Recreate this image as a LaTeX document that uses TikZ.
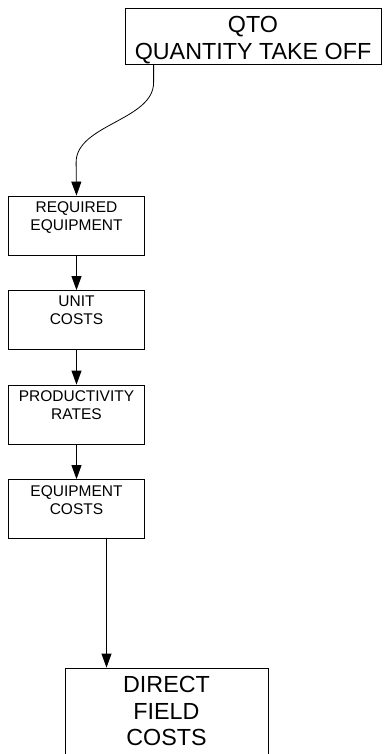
\documentclass[tikz,border=0pt]{standalone}
\usepackage{fontspec}
\setmainfont{Liberation Sans}
\usetikzlibrary{positioning,arrows.meta}
\begin{document}
\begin{tikzpicture}[x=1pt,y=-1pt,line width=0.8pt,
  box/.style={draw,rectangle,minimum width=136pt,minimum height=59pt,inner sep=0pt},
  lbl/.style={align=center,inner sep=0pt,font=\fontsize{15.5}{18}\selectfont},
  biglbl/.style={align=center,inner sep=0pt,font=\fontsize{23.3}{26.8}\selectfont},
  arr/.style={-{Triangle[length=14pt,width=10pt]}}]
  \useasboundingbox (0,0) rectangle (385,754);
  \node[box,minimum width=256pt,minimum height=56pt] (qto) at (253,36) {};
  \node[biglbl,below=8pt of qto.north] (qto-t) {QTO\\QUANTITY TAKE OFF};
  \node[box] (req) at (76.5,225.5) {};
  \node[lbl,below=5.7pt of req.north] (req-t) {REQUIRED\\EQUIPMENT};
  \node[box] (unit) at (76.5,320) {};
  \node[lbl,below=5.7pt of unit.north] (unit-t) {UNIT\\COSTS};
  \node[box] (prod) at (76.5,414.5) {};
  \node[lbl,below=5.7pt of prod.north] (prod-t) {PRODUCTIVITY\\RATES};
  \node[box] (eqc) at (76.5,509) {};
  \node[lbl,below=5.7pt of eqc.north] (eqc-t) {EQUIPMENT\\COSTS};
  \node[box,minimum width=203pt,minimum height=110pt] (dir) at (166.5,723) {};
  \node[biglbl,below=8pt of dir.north] (dir-t) {DIRECT\\FIELD\\COSTS};
  \draw[arr] ([xshift=29pt]qto.south west) -- ++(0,18)
    .. controls +(0,38) and +(0,-38) .. ++(-77.5,80) -- (req.north);
  \draw[arr] (req) -- (unit);
  \draw[arr] (unit) -- (prod);
  \draw[arr] (prod) -- (eqc);
  \draw[arr] ([xshift=30pt]eqc.south) -- ([xshift=30pt]eqc.south |- dir.north);
\end{tikzpicture}
\end{document}
